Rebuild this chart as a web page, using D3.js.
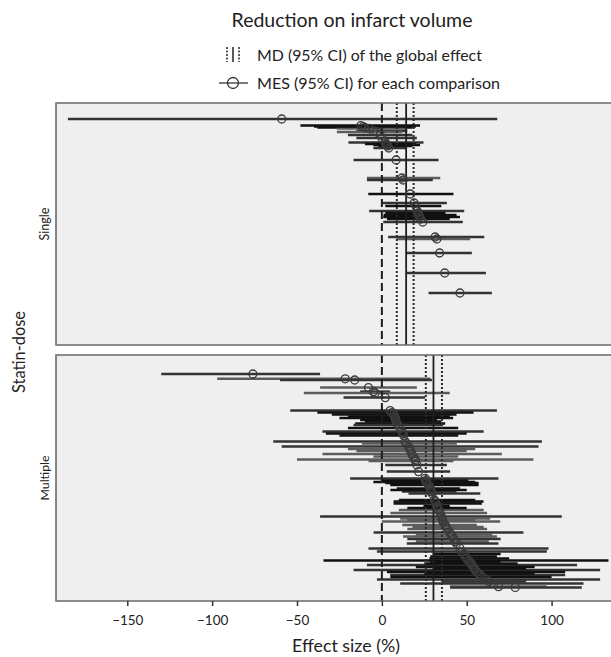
<!DOCTYPE html>
<html><head><meta charset="utf-8">
<script src="https://cdn.jsdelivr.net/npm/d3@7"></script>
<style>
body{margin:0;background:#fff;}
svg{display:block;font-family:Lato,"Open Sans",sans-serif;}
</style>
</head><body>
<svg id="chart" width="611" height="657"></svg>
<script>
// ---------- data ----------
const panelNames = ["Single", "Multiple"];
const xTicks = [-150, -100, -50, 0, 50, 100];
const mdValue = [14.3, 30.4];
const mdLower = [8.8, 25.9];
const mdUpper = [18.7, 35.4];

// Single statin-dose: row position (order), MES, CI lower, CI upper, shade group
const singlePos   = [8, 11.3, 12.3, 12.7, 14, 14.5, 17.5, 19.8, 21, 21.5, 22.5, 28.5, 37.5, 38.5, 45.5, 50, 51.5, 54, 55, 57, 58, 59.5, 67, 68, 75, 85, 95, 11.8, 16, 20.5, 56];
const singleMES   = [-59, -12.4, -10, -7.5, -5, -3, 0, 2, 3, 3.5, 4, 8.4, 11.8, 12.5, 16.7, 19, 20, 20.8, 21.4, 22.2, 23, 24.1, 31.4, 32.4, 34, 37, 46, -11, -1, 2.5, 21.8];
const singleLo    = [-185, -48, -38, -26.5, -15, -26.5, -15, -19.7, -5, -2, -5, -16.7, -8.8, -8.8, -8, 0, 2, -7.5, 2, 0.8, 3, 0.8, 3.7, 8.8, 14.7, 14.3, 27.5, -40, -20, -10, 1];
const singleHi    = [68, 22.5, 18, 14.7, 15, 12, 20.6, 24.5, 22.5, 18, 14.7, 33.4, 34.4, 30, 42.2, 38.3, 35, 48.5, 37.5, 46, 40, 47.7, 60.3, 52, 53, 61.3, 64.8, 20, 18, 20, 44];
const singleShade = [1, 0, 0, 2, 1, 2, 1, 1, 0, 0, 1, 1, 2, 1, 0, 1, 0, 1, 0, 0, 0, 1, 1, 2, 1, 1, 1, 0, 1, 0, 0];

// Multiple statin-dose
const multiPos   = [6.5, 8.9, 9.5, 13.3, 15.3, 16, 18.3, 24.8, 25.8, 26.8, 27.8, 29.5, 31.2, 32, 35.3, 36.2, 40.3, 41.3, 42.8, 44, 46.5, 49.2, 50, 52, 55.3, 58.7, 59.8, 61, 62, 63.7, 65.3, 66.2, 70.3, 71.2, 72.5, 74.5, 77.8, 78.7, 80.3, 82, 84, 85.8, 87.8, 90.3, 91.2, 93.7, 95.3, 97.8, 99.8, 100.5, 102, 103, 104.5, 105.5, 107, 108, 109.2, 111.2, 112.8, 113.2,
                    28.5, 30.3, 33.5, 37.2, 45, 47.8, 60.5, 64.5, 69.5, 73.5, 76, 79.5, 83, 86.8, 89, 96.5, 98.8, 101.2, 103.8, 106.3, 110.2];
const multiMES   = [-76, -21.6, -16, -7.9, -5, -4, 2, 4.9, 6, 7, 7.5, 8.2, 8.8, 9.5, 11.8, 12.3, 13.7, 14.5, 15.7, 16.5, 17.7, 19.6, 19.8, 20.6, 21.6, 25.5, 25.8, 26.5, 27.5, 28.5, 29, 29.5, 31.4, 31.8, 32.5, 33.4, 35, 35.4, 36, 37.3, 38.5, 40, 41.5, 43.2, 44, 46, 47, 49.1, 51, 52, 53, 54, 55, 56, 58, 59, 61.9, 65.8, 68.7, 78.6,
                    8, 8.5, 10.5, 12.8, 17, 18.5, 26, 28.8, 31, 33, 34.5, 35.8, 38, 40.8, 42.5, 48.5, 50, 52.5, 54.5, 57, 63];
const multiLo    = [-130, -97, -60, -36.4, -12.8, -46, -22.6, -54, -38, -29.5, -20, -12.8, -15.7, -16.7, -35, -33, -64, -11.8, -59, -20, -35, -50, -7.9, 2, 2.9, -18.7, 0, 2, 4.9, 8.8, 11.8, 15.7, 6.9, 6.9, 24.5, 10, -36.4, 10.8, 0, 12, 15, -4.9, 12.5, 20, 14.7, -7.9, -2.9, 28.5, -34.4, 28.5, -8.8, 20, -16.7, 3, 4.9, 5, -2.9, 10.8, 40.2, 40.2,
                    -25, -10, -20, -25, -15, -5, -5, 5, 10, 15, 5, 15, 18, 20, 15, 30, 28, 25, 30, 25, 35];
const multiHi    = [-36.4, 28.5, 29.5, 20.6, 4.9, 40, 25.5, 67.8, 54, 44, 40, 32.4, 37.3, 36, 60, 50, 94.3, 44.2, 92.3, 55, 70.7, 89.3, 42.2, 38.3, 40.2, 68.7, 51, 57, 57, 46, 44, 58, 59.9, 58.9, 40, 60, 106, 63.8, 69.7, 56, 62, 83.4, 67.8, 63, 68.7, 98.2, 97.2, 67.8, 133.5, 70, 115, 90, 128.6, 108, 108, 100, 128.6, 118.8, 97, 117.8,
                    42, 35, 45, 45, 50, 45, 55, 50, 55, 50, 62, 55, 60, 65, 70, 70, 75, 80, 85, 90, 85];
const multiShade = [1, 2, 1, 2, 1, 2, 1, 1, 0, 0, 0, 0, 0, 1, 1, 0, 1, 2, 1, 2, 2, 2, 2, 1, 1, 1, 0, 0, 0, 0, 1, 1, 0, 0, 0, 2, 1, 2, 2, 2, 2, 1, 2, 2, 1, 1, 1, 0, 0, 0, 1, 0, 1, 0, 1, 0, 1, 1, 2, 1,
                    0, 0, 0, 0, 2, 2, 0, 0, 0, 0, 2, 2, 2, 2, 1, 0, 0, 0, 0, 0, 1];

const shadeColors = ["#111111", "#333333", "#5c5c5c"];

// ---------- layout ----------
const svg = d3.select("#chart");
const left = 56, right = 611;
const x = d3.scaleLinear().domain([-192, 135]).range([left, right]);

function fitText(sel, width) {
  const node = sel.node();
  const fs = parseFloat(sel.attr("font-size"));
  const w = node.getComputedTextLength();
  if (w > 0) sel.attr("font-size", (fs * width / w).toFixed(2));
  return sel;
}

const panels = [
  {name: panelNames[0], top: 103, bottom: 345, domain: [0, 121], labelW: 33,
   rows: d3.range(singlePos.length).map(i => ({pos: singlePos[i], mes: singleMES[i], lo: singleLo[i], hi: singleHi[i], shade: singleShade[i]}))},
  {name: panelNames[1], top: 355, bottom: 601, domain: [-3, 120], labelW: 45,
   rows: d3.range(multiPos.length).map(i => ({pos: multiPos[i], mes: multiMES[i], lo: multiLo[i], hi: multiHi[i], shade: multiShade[i]}))}
];

const defs = svg.append("defs");

panels.forEach((p, k) => {
  const y = d3.scaleLinear().domain(p.domain).range([p.top, p.bottom]);
  const g = svg.append("g");
  defs.append("clipPath").attr("id", "clip" + k)
    .append("rect").attr("x", left).attr("y", p.top).attr("width", right - left).attr("height", p.bottom - p.top);

  g.append("rect").attr("x", left).attr("y", p.top).attr("width", right - left + 4).attr("height", p.bottom - p.top)
    .attr("fill", "#efefef");

  const inner = g.append("g").attr("clip-path", `url(#clip${k})`);

  inner.selectAll("line.ci").data(p.rows).join("line").attr("class", "ci")
    .attr("x1", d => x(d.lo)).attr("x2", d => x(d.hi))
    .attr("y1", d => y(d.pos)).attr("y2", d => y(d.pos))
    .attr("stroke", d => shadeColors[d.shade]).attr("stroke-width", 2.5);

  // reference lines
  inner.append("line").attr("x1", x(0)).attr("x2", x(0)).attr("y1", p.top).attr("y2", p.bottom)
    .attr("stroke", "#1e1e1e").attr("stroke-width", 2).attr("stroke-dasharray", "8,4");
  [mdLower[k], mdUpper[k]].forEach(v => {
    inner.append("line").attr("x1", x(v)).attr("x2", x(v)).attr("y1", p.top).attr("y2", p.bottom)
      .attr("stroke", "#2a2a2a").attr("stroke-width", 2).attr("stroke-dasharray", "2,2");
  });
  inner.append("line").attr("x1", x(mdValue[k])).attr("x2", x(mdValue[k])).attr("y1", p.top).attr("y2", p.bottom)
    .attr("stroke", "#1e1e1e").attr("stroke-width", 1.8);

  inner.selectAll("circle.mes").data(p.rows).join("circle").attr("class", "mes")
    .attr("cx", d => x(d.mes)).attr("cy", d => y(d.pos)).attr("r", 4)
    .attr("fill", "none").attr("stroke", "#3a3a3a").attr("stroke-width", 1.3);

  g.append("path")
    .attr("d", `M${right + 4},${p.top}H${left}V${p.bottom}H${right + 4}`)
    .attr("fill", "none").attr("stroke", "#6a6a6a").attr("stroke-width", 1.6);

  const lab = svg.append("text")
    .attr("transform", `translate(49,${(p.top + p.bottom) / 2}) rotate(-90)`)
    .attr("text-anchor", "middle").attr("font-size", 12).attr("fill", "#222")
    .text(p.name);
  fitText(lab, p.labelW);
});

// x axis
const axis = svg.append("g").attr("transform", `translate(0,${panels[1].bottom})`)
  .call(d3.axisBottom(x).tickValues(xTicks).tickSize(5).tickPadding(9));
axis.select(".domain").remove();
axis.selectAll(".tick line").attr("stroke", "#333").attr("stroke-width", 1.5);
axis.selectAll(".tick text").attr("font-size", 13.5).attr("fill", "#222").attr("font-family", "Lato, sans-serif");

fitText(svg.append("text").attr("x", 346).attr("y", 652).attr("text-anchor", "middle")
  .attr("font-size", 15).attr("fill", "#222").text("Effect size (%)"), 108);

fitText(svg.append("text")
  .attr("transform", `translate(25,352) rotate(-90)`)
  .attr("text-anchor", "middle").attr("font-size", 17).attr("fill", "#222")
  .text("Statin-dose"), 82);

// title + legend
fitText(svg.append("text").attr("x", 352).attr("y", 27).attr("text-anchor", "middle")
  .attr("font-size", 17).attr("fill", "#222").text("Reduction on infarct volume"), 241);

const leg = svg.append("g");
leg.append("line").attr("x1", 227).attr("x2", 227).attr("y1", 47).attr("y2", 62)
  .attr("stroke", "#333").attr("stroke-width", 1.6).attr("stroke-dasharray", "2,1.5");
leg.append("line").attr("x1", 233).attr("x2", 233).attr("y1", 47).attr("y2", 62)
  .attr("stroke", "#333").attr("stroke-width", 1.6);
leg.append("line").attr("x1", 239).attr("x2", 239).attr("y1", 47).attr("y2", 62)
  .attr("stroke", "#333").attr("stroke-width", 1.6).attr("stroke-dasharray", "2,1.5");
fitText(leg.append("text").attr("x", 257).attr("y", 61).attr("font-size", 14).attr("fill", "#222")
  .text("MD (95% CI) of the global effect"), 225);

leg.append("line").attr("x1", 219).attr("x2", 248).attr("y1", 83).attr("y2", 83)
  .attr("stroke", "#333").attr("stroke-width", 1.3);
leg.append("circle").attr("cx", 233).attr("cy", 83).attr("r", 5.5)
  .attr("fill", "none").attr("stroke", "#333").attr("stroke-width", 1.3);
fitText(leg.append("text").attr("x", 257).attr("y", 89).attr("font-size", 14).attr("fill", "#222")
  .text("MES (95% CI) for each comparison"), 243);
</script>
</body></html>
